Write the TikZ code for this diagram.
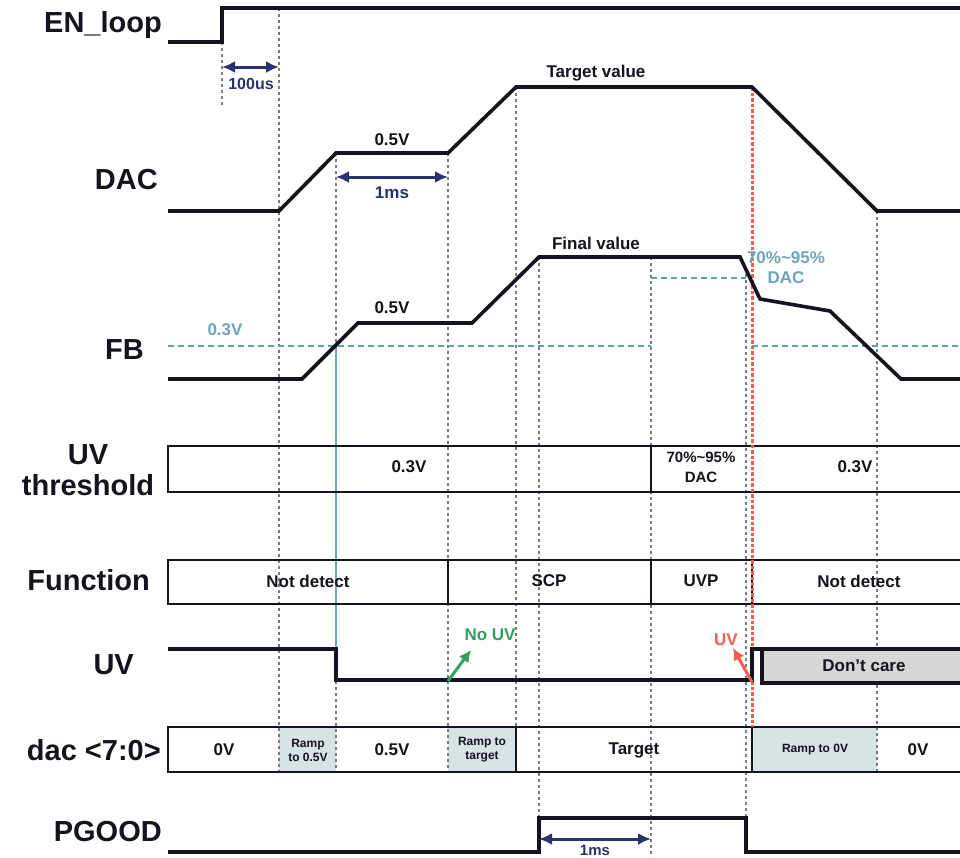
\documentclass[tikz,border=0pt]{standalone}
\usepackage{fontspec}
\setmainfont{Liberation Sans}
\usetikzlibrary{arrows.meta}
\definecolor{navy}{RGB}{40,50,110}
\definecolor{lblue}{RGB}{110,165,190}
\definecolor{hdash}{RGB}{100,160,170}
\definecolor{dgray}{RGB}{115,125,135}
\definecolor{redd}{RGB}{240,95,80}
\definecolor{grn}{RGB}{50,160,95}
\definecolor{fillb}{RGB}{214,228,230}
\definecolor{dcgray}{RGB}{215,215,215}
\definecolor{ink}{RGB}{20,20,30}
\tikzset{
  sig/.style={line width=3.6pt, draw=ink, line join=miter},
  vguide/.style={draw=dgray, line width=2pt, dash pattern=on 3pt off 3pt},
  rguide/.style={draw=redd, line width=3pt, dash pattern=on 3.5pt off 2pt},
  hguide/.style={draw=hdash, line width=2pt, dash pattern=on 6pt off 4pt},
  rowbox/.style={draw=ink, line width=2.2pt},
  divline/.style={draw=ink, line width=1.6pt},
  lbl/.style={font=\bfseries\fontsize{29}{31}\selectfont, text=ink, anchor=east, align=center, inner sep=0pt},
  val/.style={font=\bfseries\fontsize{17}{20}\selectfont, text=ink, align=center, inner sep=0pt},
  bval/.style={val, text=lblue},
  small/.style={font=\bfseries\fontsize{12}{14}\selectfont, text=ink, align=center, inner sep=0pt},
  dim/.style={draw=navy, line width=3pt, {Latex[length=13pt,width=12pt]}-{Latex[length=13pt,width=12pt]}},
  tagarrow/.style={line width=3pt, -{Latex[length=12pt,width=12pt]}}
}
\begin{document}
\begin{tikzpicture}[x=1pt,y=-1pt]
\useasboundingbox (0,0) rectangle (960,857);
\clip (0,0) rectangle (960,857);
\fill[white] (0,0) rectangle (960,857);

% shaded cells
\fill[fillb] (279,727) rectangle (336,772);
\fill[fillb] (448,727) rectangle (516,772);
\fill[fillb] (752,727) rectangle (877,772);

% guides
\draw[vguide] (222,42) -- (222,105);
\draw[vguide] (279,8) -- (279,772);
\draw[vguide] (336,153) -- (336,772);
\draw[vguide] (448,153) -- (448,772);
\draw[vguide] (516,87) -- (516,772);
\draw[vguide] (539,257) -- (539,818);
\draw[vguide] (651,257) -- (651,857);
\draw[vguide] (746,268) -- (746,818);
\draw[vguide] (877,211) -- (877,772);
\draw[hguide] (168,346) -- (651,346);
\draw[hguide] (752,346) -- (960,346);
\draw[hguide] (651,278) -- (746,278);
\draw[draw=lblue, line width=2pt] (336,346) -- (336,680);

% row boxes
\draw[rowbox] (168,446) rectangle (965,492);
\draw[divline] (651,446) -- (651,492);
\draw[rowbox] (168,560) rectangle (965,604);
\draw[divline] (448,560) -- (448,604);
\draw[divline] (651,560) -- (651,604);
\draw[divline] (752,560) -- (752,604);
\draw[rowbox] (168,727) rectangle (965,772);
\draw[divline] (516,727) -- (516,772);
\draw[divline] (752,727) -- (752,772);

% red guide
\draw[rguide] (752,87) -- (752,727);

% signals
\draw[sig] (168,42) -- (222,42) -- (222,8) -- (965,8);
\draw[sig] (168,211) -- (279,211) -- (336,153) -- (448,153) -- (516,87) -- (752,87) -- (877,211) -- (965,211);
\draw[sig] (168,379) -- (302,379) -- (358,323) -- (472,323) -- (539,257) -- (740,257) -- (760,299) -- (830,311) -- (901,379) -- (965,379);
\draw[sig, fill=dcgray] (762,649) rectangle (970,683);
\draw[sig] (168,649) -- (336,649) -- (336,680) -- (752,680) -- (752,649) -- (965,649);
\draw[sig] (168,852) -- (539,852) -- (539,818) -- (746,818) -- (746,852) -- (965,852);

% left labels
\node[lbl] (lEN) at (162,25) {EN\_loop};
\node[lbl] (lDAC) at (158,180) {DAC};
\node[lbl] (lFB) at (144,350) {FB};
\node[lbl, anchor=center] (lUVT) at (88,470) {UV\\threshold};
\node[lbl] (lFn) at (150,580) {Function};
\node[lbl] (lUV) at (134,665) {UV};
\node[lbl] (ldac) at (161,750) {dac <7:0>};
\node[lbl] (lPG) at (162,832) {PGOOD};

% annotations
\coordinate (a1) at (222,67); \coordinate (a2) at (279,67);
\draw[dim] (a1) -- (a2);
\node[val, text=navy, font=\bfseries\fontsize{16}{18}\selectfont] (t100) at (251,84) {100us};
\node[val] (dac05) at (392,140) {0.5V};
\coordinate (b1) at (336,177); \coordinate (b2) at (448,177);
\draw[dim] (b1) -- (b2);
\node[val, text=navy] (t1ms) at (392,193) {1ms};
\node[val] (ttv) at (596,73) {Target value};
\node[val] (tfv) at (596,243) {Final value};
\node[val] (fb05) at (392,308) {0.5V};
\node[bval] (fb03) at (225,330) {0.3V};
\node[bval] (fb70) at (786,268) {70\%\textasciitilde95\%\\DAC};

\node[val] (u1) at (409,467) {0.3V};
\node[val, font=\bfseries\fontsize{15}{20}\selectfont] (u2) at (701,467) {70\%\textasciitilde95\%\\DAC};
\node[val] (u3) at (855,467) {0.3V};

\node[val] (f1) at (308,581) {Not detect};
\node[val] (f2) at (549,581) {SCP};
\node[val] (f3) at (701,581) {UVP};
\node[val] (f4) at (859,581) {Not detect};

\node[val, text=grn] (noUV) at (490,635) {No UV};
\coordinate (g1) at (448,681); \coordinate (g2) at (471,650);
\draw[tagarrow, draw=grn] (g1) -- (g2);
\node[val, text=redd] (uvt) at (726,640) {UV};
\coordinate (r1) at (752,682); \coordinate (r2) at (733,648);
\draw[tagarrow, draw=redd] (r1) -- (r2);
\node[val] (dc) at (864,666) {Don’t care};

\node[val] (d1) at (224,750) {0V};
\node[small] (d2) at (308,750) {Ramp\\to 0.5V};
\node[val] (d3) at (392,750) {0.5V};
\node[small] (d4) at (482,750) {Ramp to\\target};
\node[val] (d5) at (634,750) {Target};
\node[small] (d6) at (815,750) {Ramp to 0V};
\node[val] (d7) at (918,750) {0V};

\coordinate (p1) at (539,839); \coordinate (p2) at (651,839);
\draw[dim] (p1) -- (p2);
\node[val, text=navy, font=\bfseries\fontsize{15}{17}\selectfont] (tp1ms) at (595,850) {1ms};
\end{tikzpicture}
\end{document}
